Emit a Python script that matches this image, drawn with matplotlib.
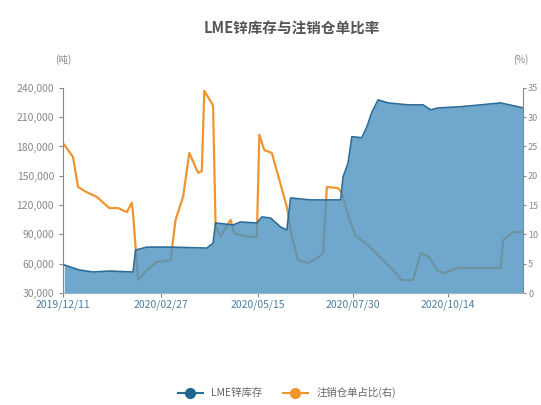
import matplotlib
matplotlib.use("Agg")
import matplotlib.pyplot as plt
from matplotlib.lines import Line2D
from matplotlib.ticker import FuncFormatter
import pandas as pd

plt.rcParams['font.family'] = ['Noto Sans CJK SC', 'DejaVu Sans']

# LME zinc stock (tonnes)
stock_dates = ["2019-12-12", "2019-12-24", "2020-01-04", "2020-01-17", "2020-02-05",
               "2020-02-07", "2020-02-16", "2020-03-06", "2020-04-04", "2020-04-09",
               "2020-04-11", "2020-04-25", "2020-05-01", "2020-05-14", "2020-05-18",
               "2020-05-25", "2020-06-02", "2020-06-07", "2020-06-10", "2020-06-26",
               "2020-07-20", "2020-07-22", "2020-07-26", "2020-07-29", "2020-08-06",
               "2020-08-10", "2020-08-14", "2020-08-19", "2020-08-27", "2020-09-12",
               "2020-09-24", "2020-09-30", "2020-10-06", "2020-10-22", "2020-11-09",
               "2020-11-25", "2020-12-13"]
stock = [58700, 53600, 51500, 52500, 51500,
         74000, 77000, 77000, 76000, 81000,
         101700, 99700, 102700, 101700, 107900,
         106800, 97600, 94500, 127300, 125300,
         125300, 149000, 163000, 190000, 189000,
         200000, 215000, 227700, 224600, 222600,
         222600, 217500, 219500, 220500, 222600,
         224600, 219500]

# cancelled warrants ratio (%)
ratio_dates = ["2019-12-12", "2019-12-19", "2019-12-23", "2019-12-30", "2020-01-07",
               "2020-01-17", "2020-01-24", "2020-01-31", "2020-02-04", "2020-02-05",
               "2020-02-09", "2020-02-16", "2020-02-24", "2020-03-06", "2020-03-10",
               "2020-03-16", "2020-03-21", "2020-03-28", "2020-03-31", "2020-04-02",
               "2020-04-09", "2020-04-11", "2020-04-15", "2020-04-23", "2020-04-26",
               "2020-05-07", "2020-05-14", "2020-05-16", "2020-05-20", "2020-05-26",
               "2020-06-01", "2020-06-07", "2020-06-11", "2020-06-16", "2020-06-24",
               "2020-07-02", "2020-07-06", "2020-07-09", "2020-07-18", "2020-07-21",
               "2020-07-27", "2020-08-01", "2020-08-09", "2020-08-31", "2020-09-07",
               "2020-09-16", "2020-09-22", "2020-09-29", "2020-10-05", "2020-10-11",
               "2020-10-22", "2020-11-13", "2020-11-25", "2020-11-27", "2020-12-05",
               "2020-12-13"]
ratio = [25.3, 23.2, 18.1, 17.2, 16.4,
         14.5, 14.5, 13.8, 15.4, 13.6,
         2.2, 3.9, 5.3, 5.6, 12.5,
         16.4, 23.9, 20.5, 20.8, 34.5,
         32.0, 11.5, 9.6, 12.5, 10.2,
         9.6, 9.6, 27.0, 24.4, 23.9,
         19.3, 14.7, 9.6, 5.6, 5.1,
         6.1, 6.8, 18.1, 17.9, 17.1,
         12.5, 9.8, 8.5, 3.9, 2.2,
         2.2, 6.8, 6.1, 3.9, 3.4,
         4.3, 4.3, 4.3, 9.0, 10.4,
         10.4]

tick_dates = ["2019-12-11", "2020-02-27", "2020-05-15", "2020-07-30", "2020-10-14"]
tick_labels = ["2019/12/11", "2020/02/27", "2020/05/15", "2020/07/30", "2020/10/14"]

sd = pd.to_datetime(stock_dates)
rd = pd.to_datetime(ratio_dates)

blue_fill = '#4b93c0'
blue_line = '#2b6c98'
orange = '#f0952e'
grey = '#888888'

fig = plt.figure(figsize=(5.41, 4.05), dpi=100)
ax = fig.add_axes([0.1165, 0.2765, 0.8505, 0.5065])
ax2 = ax.twinx()

# orange line sits under the semi-transparent area, like the original
ax2.plot(rd, ratio, color=orange, lw=1.6, zorder=2)
ax.set_zorder(ax2.get_zorder() + 1)
ax.patch.set_visible(False)
ax.fill_between(sd, 30000, stock, color=blue_fill, alpha=0.8, lw=0, zorder=2)
ax.plot(sd, stock, color=blue_line, lw=1.2, zorder=3)

ax.set_xlim(pd.Timestamp("2019-12-11"), pd.Timestamp("2020-12-13"))
ax.set_ylim(30000, 240000)
ax2.set_ylim(0, 35)
ax.set_yticks(range(30000, 240001, 30000))
ax.yaxis.set_major_formatter(FuncFormatter(lambda v, p: f"{int(v):,}"))
ax2.set_yticks(range(0, 36, 5))
ax.set_xticks(pd.to_datetime(tick_dates))
ax.set_xticklabels(tick_labels)

for a in (ax, ax2):
    a.spines['top'].set_visible(False)
    a.spines['left'].set_color(grey)
    a.spines['right'].set_color(grey)
    a.spines['bottom'].set_color('#9ab8cc')
    a.tick_params(colors=grey, labelsize=7.5, length=3, width=0.8)
ax2.spines['left'].set_visible(False)
ax.spines['right'].set_visible(False)
ax.tick_params(axis='x', labelcolor='#4a7fa5', pad=2)
ax2.tick_params(axis='y', labelsize=6.5, length=2.5, pad=1)

fig.text(0.54, 0.928, "LME锌库存与注销仓单比率", ha='center', va='center',
         fontsize=10.5, color='#555555', fontweight='bold')
fig.text(0.116, 0.852, "(吨)", ha='center', va='center', fontsize=7, color=grey)
fig.text(0.962, 0.852, "(%)", ha='center', va='center', fontsize=7, color=grey)

handles = [Line2D([0], [0], color=blue_line, lw=1.5, marker='o', markersize=7,
                  markerfacecolor='#1f6690', markeredgecolor='#1f6690'),
           Line2D([0], [0], color=orange, lw=1.5, marker='o', markersize=7)]
fig.legend(handles, ["LME锌库存", "注销仓单占比(右)"], loc='center',
           bbox_to_anchor=(0.53, 0.03), ncol=2, frameon=False, fontsize=7.5,
           labelcolor='#666666', handlelength=2.4, columnspacing=2.0)

fig.savefig("out.png", dpi=100)
